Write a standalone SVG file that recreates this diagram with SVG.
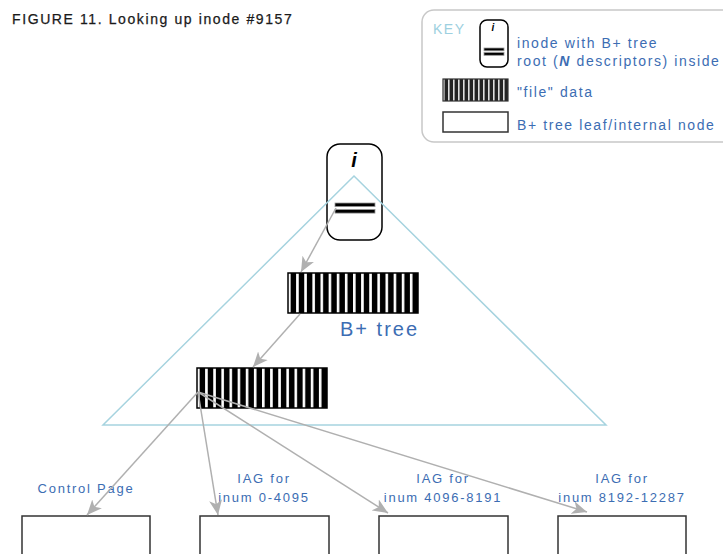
<svg xmlns="http://www.w3.org/2000/svg" width="723" height="554" viewBox="0 0 723 554">
  <defs>
    <style>
      .title { font-family: "Liberation Sans", Arial, sans-serif; font-size: 14px; letter-spacing: 1.6px; fill: #1a1a1a; stroke: #1a1a1a; stroke-width: 0.25; }
      .key { font-family: "Liberation Sans", Arial, sans-serif; font-size: 14px; letter-spacing: 1.6px; fill: #3c6db3; }
      .keyhead { font-family: "Liberation Sans", Arial, sans-serif; font-size: 14px; letter-spacing: 1.5px; fill: #9dd0e0; }
      .label { font-family: "Liberation Sans", Arial, sans-serif; font-size: 13px; letter-spacing: 1.75px; fill: #3c6db3; text-anchor: middle; }
      .big { font-family: "Liberation Sans", Arial, sans-serif; font-size: 20px; letter-spacing: 2px; fill: #3c6db3; }
      .inode-i { font-family: "Liberation Sans", Arial, sans-serif; font-weight: bold; font-style: italic; fill: #000; text-anchor: middle; }
      .box { fill: #fff; stroke: #333; stroke-width: 1.5; }
      .data { fill: url(#stripes); stroke: #000; stroke-width: 1.5; }
      .inode { fill: none; stroke: #000; stroke-width: 1.5; }
      .bar { fill: #000; stroke: #999; stroke-width: 0.8; }
      .edge { fill: none; stroke: #b0b0b0; stroke-width: 1.5; marker-end: url(#head); }
      .tree { fill: none; stroke: #a6d3df; stroke-width: 1.5; }
    </style>
    <!-- vertical stripes for "file" data blocks (16 stripes across 130px) -->
    <pattern id="stripes" patternUnits="userSpaceOnUse" x="0" y="0" width="8.125" height="40">
      <rect x="0" y="0" width="8.125" height="40" fill="#fff"/>
      <rect x="2.6" y="0" width="5.525" height="40" fill="#000"/>
    </pattern>
    <pattern id="stripes-small" patternUnits="userSpaceOnUse" x="0" y="0" width="5" height="22">
      <rect x="0" y="0" width="5" height="22" fill="#ddd"/>
      <rect x="1.6" y="0" width="3.4" height="22" fill="#222"/>
    </pattern>
    <marker id="head" markerUnits="userSpaceOnUse" markerWidth="16" markerHeight="14" viewBox="0 0 16 14" refX="15" refY="7" orient="auto">
      <path d="M0,0.5 L15,7 L0,13.5 L4,7 Z" fill="#b0b0b0"/>
    </marker>
  </defs>

  <rect width="723" height="554" fill="#fff"/>

  <text class="title" x="12" y="24">FIGURE 11. Looking up inode #9157</text>

  <!-- legend -->
  <g id="key">
    <rect x="422" y="10" width="320" height="132" rx="12" fill="#fff" stroke="#c8c8c8" stroke-width="1.5"/>
    <text class="keyhead" x="433" y="34">KEY</text>
    <rect x="480" y="20" width="28" height="47" rx="7" fill="#fff" stroke="#000" stroke-width="1.5"/>
    <text class="inode-i" x="493" y="31" font-size="10">i</text>
    <rect class="bar" x="484" y="48" width="20" height="2.8"/>
    <rect class="bar" x="484" y="52.5" width="20" height="2.8"/>
    <text class="key" x="517" y="48">inode with B+ tree</text>
    <text class="key" x="517" y="66">root (<tspan font-weight="bold" font-style="italic">N</tspan> descriptors) inside</text>
    <g transform="translate(443,79)">
      <rect x="0" y="0" width="65" height="22" fill="url(#stripes-small)" stroke="#333" stroke-width="1.2"/>
    </g>
    <text class="key" x="517" y="97">"file" data</text>
    <rect x="443" y="112" width="65" height="20" fill="#fff" stroke="#333" stroke-width="1.5"/>
    <text class="key" x="517" y="130">B+ tree leaf/internal node</text>
  </g>

  <!-- inode holding the B+ tree root -->
  <g id="inode">
    <rect class="inode" x="327" y="144" width="55" height="96" rx="13"/>
    <text class="inode-i" x="354" y="167" font-size="20">i</text>
    <rect class="bar" x="335" y="203" width="40" height="3.6"/>
    <rect class="bar" x="335" y="209.5" width="40" height="3.6"/>
  </g>

  <!-- B+ tree outline -->
  <g id="btree">
    <polygon class="tree" points="354,176 606,425 103,425"/>
    <text class="big" x="340" y="336">B+ tree</text>
  </g>

  <g id="internal-node">
    <g transform="translate(288,273)">
      <rect class="data" x="0" y="0" width="130" height="40"/>
    </g>
  </g>

  <g id="leaf-node">
    <g transform="translate(197,368)">
      <rect class="data" x="0" y="0" width="130" height="40"/>
    </g>
  </g>

  <g id="control-page">
    <text class="label" x="86" y="493">Control Page</text>
    <rect class="box" x="22" y="516" width="128" height="60"/>
  </g>

  <g id="iag-0">
    <text class="label" x="264" y="483">IAG for</text>
    <text class="label" x="264" y="502">inum 0-4095</text>
    <rect class="box" x="200" y="516" width="129" height="60"/>
  </g>

  <g id="iag-1">
    <text class="label" x="443" y="483">IAG for</text>
    <text class="label" x="443" y="502">inum 4096-8191</text>
    <rect class="box" x="379" y="516" width="129" height="60"/>
  </g>

  <g id="iag-2">
    <text class="label" x="622" y="483">IAG for</text>
    <text class="label" x="622" y="502">inum 8192-12287</text>
    <rect class="box" x="558" y="516" width="128" height="60"/>
  </g>

  <!-- pointers -->
  <g id="connectors">
    <line class="edge" x1="336" y1="208" x2="301" y2="272"/>
    <line class="edge" x1="300" y1="314" x2="253" y2="367"/>
    <line class="edge" x1="198" y1="392" x2="87" y2="515"/>
    <line class="edge" x1="198" y1="392" x2="218" y2="515"/>
    <line class="edge" x1="198" y1="392" x2="388" y2="513"/>
    <line class="edge" x1="198" y1="392" x2="587" y2="512"/>
  </g>
</svg>
